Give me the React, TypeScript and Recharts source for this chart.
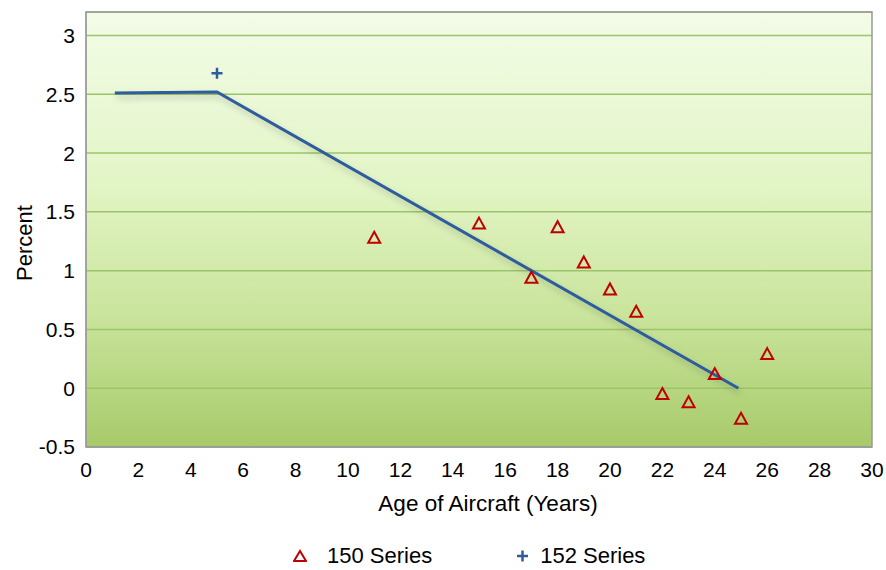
import {
  ComposedChart,
  Line,
  Scatter,
  XAxis,
  YAxis,
  CartesianGrid,
  ReferenceArea,
} from "recharts";

// 150 Series (triangles)
const age150 = [11, 15, 17, 18, 19, 20, 21, 22, 23, 24, 25, 26];
const pct150 = [1.28, 1.4, 0.94, 1.37, 1.07, 0.84, 0.65, -0.05, -0.12, 0.12, -0.26, 0.29];

// 152 Series (plus)
const age152 = [5];
const pct152 = [2.68];

// fitted trend line
const trendAge = [1.1, 5, 24.9];
const trendPct = [2.51, 2.52, 0];

const xTicks = [0, 2, 4, 6, 8, 10, 12, 14, 16, 18, 20, 22, 24, 26, 28, 30];
const yTicks = [-0.5, 0, 0.5, 1, 1.5, 2, 2.5, 3];

const series150 = age150.map((x, i) => ({ x, y: pct150[i] }));
const series152 = age152.map((x, i) => ({ x, y: pct152[i] }));
const trend = trendAge.map((x, i) => ({ x, y: trendPct[i] }));

const FONT = "'Liberation Sans', Arial, Helvetica, sans-serif";

const Triangle = (props: any) => {
  const { cx, cy } = props;
  if (cx == null || cy == null) return null;
  return (
    <path
      d={`M${cx},${cy - 6} L${cx + 6},${cy + 5} L${cx - 6},${cy + 5} Z`}
      fill="none"
      stroke="#c00000"
      strokeWidth={2}
    />
  );
};

const Plus = (props: any) => {
  const { cx, cy } = props;
  if (cx == null || cy == null) return null;
  return (
    <path
      d={`M${cx - 5.5},${cy} H${cx + 5.5} M${cx},${cy - 5.5} V${cy + 5.5}`}
      stroke="#2f5c9c"
      strokeWidth={2.5}
    />
  );
};

export default function App() {
  return (
    <div style={{ position: "relative", width: 886, height: 570, fontFamily: FONT }}>
      <style>{`body{margin:0} .recharts-line-curve{filter:url(#lineShadow)}`}</style>
      <ComposedChart
        width={886}
        height={570}
        margin={{ top: 12, right: 14, left: 0, bottom: 0 }}
      >
        <defs>
          <linearGradient id="plotBg" x1="0" y1="0" x2="0" y2="1">
            <stop offset="0%" stopColor="#f3fce8" />
            <stop offset="40%" stopColor="#e2f5c5" />
            <stop offset="70%" stopColor="#c9e49b" />
            <stop offset="100%" stopColor="#a7ca6a" />
          </linearGradient>
          <filter id="lineShadow" x="-10%" y="-10%" width="120%" height="130%">
            <feDropShadow dx="2" dy="4" stdDeviation="3" floodColor="#000" floodOpacity="0.2" />
          </filter>
        </defs>
        <CartesianGrid
          vertical={false}
          fill="url(#plotBg)"
          stroke="#9cc468"
          strokeWidth={1.5}
          fillOpacity={1}
        />
        <XAxis
          dataKey="x"
          type="number"
          domain={[0, 30]}
          ticks={xTicks}
          interval={0}
          height={123}
          tickLine={false}
          tickSize={0}
          tickMargin={15}
          axisLine={{ stroke: "#999" }}
          tick={{ fill: "#000", fontSize: 21, fontFamily: FONT }}
          label={{
            content: () => (
              <text x={488} y={511} textAnchor="middle" fill="#000" fontSize={22.5} fontFamily={FONT}>
                Age of Aircraft (Years)
              </text>
            ),
          }}
        />
        <YAxis
          dataKey="y"
          type="number"
          domain={[-0.5, 3.2]}
          ticks={yTicks}
          interval={0}
          width={86}
          tickLine={false}
          tickSize={0}
          tickMargin={11}
          axisLine={{ stroke: "#999" }}
          tick={{ fill: "#000", fontSize: 21, fontFamily: FONT }}
          label={{
            content: () => (
              <text
                x={32}
                y={243}
                transform="rotate(-90 32 243)"
                textAnchor="middle"
                fill="#000"
                fontSize={22}
                fontFamily={FONT}
              >
                Percent
              </text>
            ),
          }}
        />
        <ReferenceArea x1={0} x2={30} y1={-0.5} y2={3.2} fill="none" stroke="#999" strokeWidth={1.5} />
        <Line
          data={trend}
          dataKey="y"
          type="linear"
          stroke="#2d5b9c"
          strokeWidth={3}
          dot={false}
          activeDot={false}
          isAnimationActive={false}
        />
        <Scatter data={series150} dataKey="y" shape={<Triangle />} isAnimationActive={false} />
        <Scatter data={series152} dataKey="y" shape={<Plus />} isAnimationActive={false} />
      </ComposedChart>
      <div
        style={{
          position: "absolute",
          top: 541,
          left: 293,
          display: "flex",
          fontSize: 22,
          color: "#000",
          lineHeight: "30px",
        }}
      >
        <div style={{ display: "flex", alignItems: "center", marginRight: 84 }}>
          <svg width={14} height={14} style={{ marginRight: 20 }}>
            <path d="M7,2 L13,12 L1,12 Z" fill="none" stroke="#c00000" strokeWidth={2} />
          </svg>
          <span>150 Series</span>
        </div>
        <div style={{ display: "flex", alignItems: "center" }}>
          <svg width={13} height={14} style={{ marginRight: 11 }}>
            <path d="M1,7 H12 M6.5,1.5 V12.5" stroke="#2f5c9c" strokeWidth={2.5} />
          </svg>
          <span>152 Series</span>
        </div>
      </div>
    </div>
  );
}
